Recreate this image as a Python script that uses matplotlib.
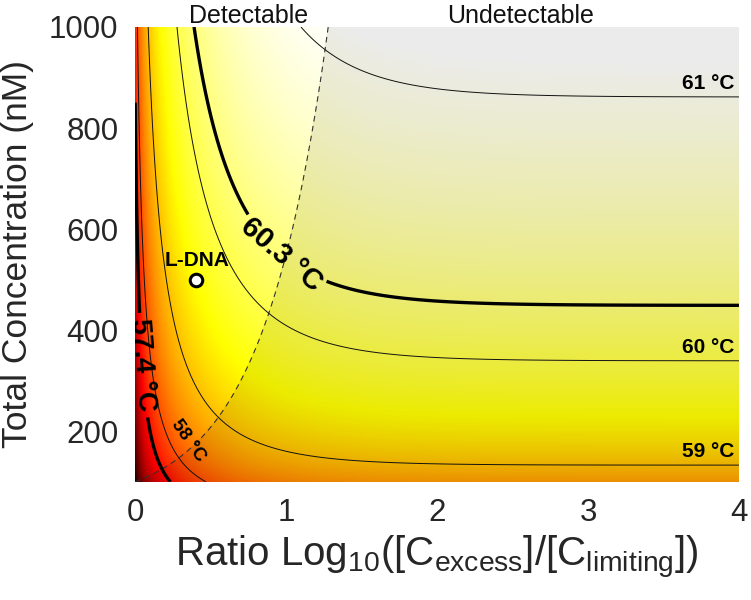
import matplotlib
matplotlib.use("Agg")
import matplotlib.pyplot as plt
import numpy as np

plt.rcParams["font.family"] = ["Liberation Sans", "DejaVu Sans"]
plt.rcParams["mathtext.fontset"] = "custom"
plt.rcParams["mathtext.rm"] = "Liberation Sans"
plt.rcParams["mathtext.it"] = "Liberation Sans"

# contour levels (deg C) and where each one levels off at high ratio (nM)
plateau_temps = [59.0, 60.0, 60.3, 61.0]
plateau_conc = [133.0, 339.0, 450.0, 861.0]
contour_levels = [57.4, 58.0, 59.0, 60.0, 60.3, 61.0]
thick_levels = [57.4, 60.3]
detection_limit = 50.0  # nM of limiting strand
ratio_shift = 0.03  # first column of the map sits slightly above ratio 1
ldna_point = (0.4, 500.0)

x_range = (0.0, 4.0)
y_range = (100.0, 1000.0)

# melting model: 1/Tm linear in ln(C_excess - C_limiting), fitted to the plateaus
inv_t = 1.0 / (np.array(plateau_temps) + 273.15)
b, a = np.polyfit(np.log(np.array(plateau_conc) * 1e-9), inv_t, 1)

xs = np.linspace(*x_range, 801)
ys = np.linspace(*y_range, 451)
X, Y = np.meshgrid(xs, ys)
r = 10 ** (X + ratio_shift)
c_eff = Y * (r - 1) / (r + 1)
tm = 1.0 / (a + b * np.log(c_eff * 1e-9)) - 273.15
c_lim = Y / (1 + 10 ** X)

fig = plt.figure(figsize=(7.51, 6.0), dpi=100)
ax = fig.add_axes([0.18, 0.197, 0.804, 0.758])

ax.imshow(tm, extent=[*x_range, *y_range], origin="lower", aspect="auto",
          cmap="hot", vmin=55.1, vmax=61.1, interpolation="bilinear")
ax.contourf(X, Y, c_lim, levels=[0, detection_limit], colors="k", alpha=0.08)
ax.contour(X, Y, c_lim, levels=[detection_limit], colors="#333333",
           linewidths=0.8, linestyles=[(0, (5, 4))])

thin = [lv for lv in contour_levels if lv not in thick_levels]
ax.contour(X, Y, tm, levels=thin, colors="#111111", linewidths=0.7)
cs = ax.contour(X, Y, tm, levels=thick_levels, colors="k", linewidths=2.4)
with plt.rc_context({"font.weight": "bold"}):
    labels = ax.clabel(cs, fmt={57.4: "57.4 °C", 60.3: "60.3 °C"}, fontsize=20,
                       inline=True, inline_spacing=6,
                       manual=[(0.02, 330), (1.0, 560)])
for t in labels:
    if t.get_text().startswith("60"):
        t.set_fontsize(21)

for t, c in zip(plateau_temps, plateau_conc):
    if t in thick_levels:
        continue
    ax.text(3.97, c + 8, f"{t:.0f} °C", ha="right", va="bottom",
            fontsize=15, fontweight="bold")
ax.text(0.35, 182, "58 °C", ha="center", va="center", rotation=-55,
        fontsize=13.5, fontweight="bold")

ax.plot(*ldna_point, "o", ms=9, mfc="white", mec="k", mew=2.2)
ax.text(ldna_point[0] + 0.01, ldna_point[1] + 37, "L-DNA", ha="center",
        va="center", fontsize=15, fontweight="bold")

for label, xpos in [("Detectable", 0.75), ("Undetectable", 2.55)]:
    ax.annotate(label, xy=(xpos, 1.0), xycoords=("data", "axes fraction"),
                xytext=(0, 3), textcoords="offset points", ha="center",
                va="baseline", fontsize=18, color="#111111")

ax.set_xlim(*x_range)
ax.set_ylim(*y_range)
ax.set_xticks([0, 1, 2, 3, 4])
ax.set_yticks([200, 400, 600, 800, 1000])
ax.tick_params(length=0, labelsize=22.5, colors="#262626", pad=12)
for s in ax.spines.values():
    s.set_visible(False)
ax.set_xlabel(r"Ratio Log$_{\mathregular{10}}$([C$_{\mathregular{excess}}$]/[C$_{\mathregular{limiting}}$])",
              fontsize=29, color="#262626", labelpad=4)
ax.set_ylabel("Total Concentration (nM)", fontsize=25.5, color="#262626", labelpad=11)

fig.savefig("out.png", dpi=100)
